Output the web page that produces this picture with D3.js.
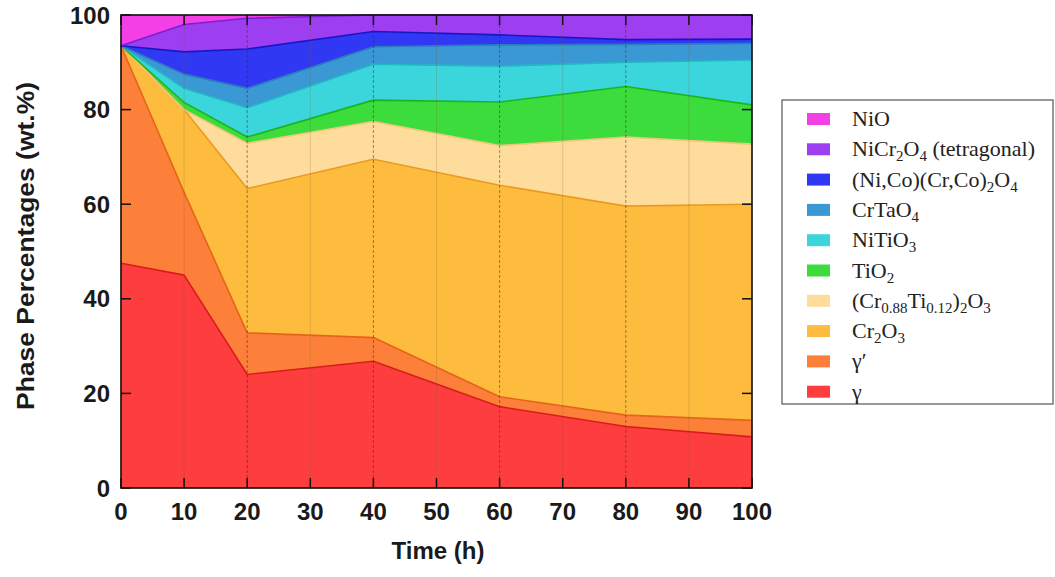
<!DOCTYPE html>
<html><head><meta charset="utf-8">
<script src="https://cdn.jsdelivr.net/npm/d3@7"></script>
<style>
html,body{margin:0;padding:0;background:#fff;}
svg{display:block;}
</style></head>
<body>
<svg id="chart" width="1055" height="577"></svg>
<script>
// ---- data ----
const times = [0, 10, 20, 40, 60, 80, 100];
const gamma      = [47.5, 45.0, 24.0, 26.8, 17.2, 13.0, 10.8];
const gammaPrime = [46.0, 17.5, 8.8, 5.0, 2.1, 2.4, 3.5];
const cr2o3      = [0, 17.5, 30.5, 37.7, 44.7, 44.2, 45.7];
const crTiOxide  = [0, 0, 9.6, 8.0, 8.4, 14.6, 12.7];
const tio2       = [0, 1.5, 1.3, 4.5, 9.2, 10.7, 8.3];
const nitio3     = [0, 3.0, 6.2, 7.6, 7.6, 5.1, 9.5];
const crtao4     = [0, 3.0, 4.1, 3.7, 4.5, 3.8, 3.5];
const spinel     = [0, 4.7, 8.3, 3.2, 2.1, 1.0, 0.9];
const nicr2o4    = [0, 5.8, 6.5, 3.5, 4.2, 5.2, 5.1];
const nio        = [6.5, 2.0, 0.7, 0, 0, 0, 0];
const xTicks = [0, 10, 20, 30, 40, 50, 60, 70, 80, 90, 100];
const yTicks = [0, 20, 40, 60, 80, 100];

// series bottom -> top
const series = [
  {key: "g",    values: gamma,      fill: "#fd3d3e", line: "#d81c1c"},
  {key: "gp",   values: gammaPrime, fill: "#fc7f3a", line: "#e5641a"},
  {key: "cr",   values: cr2o3,      fill: "#fdbc3e", line: "#eb9a1e"},
  {key: "crti", values: crTiOxide,  fill: "#fddc9c", line: "#f3c77a"},
  {key: "ti",   values: tio2,       fill: "#3bdc3c", line: "#1eb41e"},
  {key: "nt",   values: nitio3,     fill: "#3ad6dc", line: "#22b8c4"},
  {key: "ct",   values: crtao4,     fill: "#3a98d4", line: "#2a7cbc"},
  {key: "sp",   values: spinel,     fill: "#3038f4", line: "#1418c4"},
  {key: "ncr",  values: nicr2o4,    fill: "#9d3ef0", line: "#7a20d4"},
  {key: "nio",  values: nio,        fill: "#f340e6", line: "#d820cc"}
];

// legend top -> bottom
const legendItems = [
  {key: "nio",  parts: [["NiO", ""]]},
  {key: "ncr",  parts: [["NiCr", ""], ["2", "sub"], ["O", ""], ["4", "sub"], [" (tetragonal)", ""]]},
  {key: "sp",   parts: [["(Ni,Co)(Cr,Co)", ""], ["2", "sub"], ["O", ""], ["4", "sub"]]},
  {key: "ct",   parts: [["CrTaO", ""], ["4", "sub"]]},
  {key: "nt",   parts: [["NiTiO", ""], ["3", "sub"]]},
  {key: "ti",   parts: [["TiO", ""], ["2", "sub"]]},
  {key: "crti", parts: [["(Cr", ""], ["0.88", "sub"], ["Ti", ""], ["0.12", "sub"], [")", ""], ["2", "sub"], ["O", ""], ["3", "sub"]]},
  {key: "cr",   parts: [["Cr", ""], ["2", "sub"], ["O", ""], ["3", "sub"]]},
  {key: "gp",   parts: [["γ′", ""]]},
  {key: "g",    parts: [["γ", ""]]}
];

// ---- layout ----
const svg = d3.select("#chart");
const L = 121, R = 752, T = 15, B = 488;
const x = d3.scaleLinear().domain([0, 100]).range([L, R]);
const y = d3.scaleLinear().domain([0, 100]).range([B, T]);

const rows = times.map((t, i) => {
  const o = {t};
  series.forEach(s => o[s.key] = s.values[i]);
  return o;
});
const stack = d3.stack().keys(series.map(s => s.key));
const stacked = stack(rows);

const area = d3.area().x(d => x(d.data.t)).y0(d => y(d[0])).y1(d => y(d[1]));
const topLine = d3.line().x(d => x(d.data.t)).y(d => y(d[1]));

const g = svg.append("g");
stacked.forEach((layer, i) => {
  g.append("path").attr("d", area(layer)).attr("fill", series[i].fill).attr("stroke", series[i].fill).attr("stroke-width", 0.5);
});
stacked.forEach((layer, i) => {
  if (i === stacked.length - 1) return;
  g.append("path").attr("d", topLine(layer)).attr("fill", "none")
    .attr("stroke", series[i].line).attr("stroke-width", 1.6).attr("stroke-linejoin", "round");
});

// vertical grid
xTicks.filter(v => v > 0 && v < 100).forEach(v => {
  const dataPt = times.includes(v) && v !== 10;
  g.append("line").attr("x1", x(v)).attr("x2", x(v)).attr("y1", T).attr("y2", B)
    .attr("stroke", dataPt ? "#3a2a1a" : "#8a5a2a")
    .attr("stroke-opacity", dataPt ? 0.55 : 0.22)
    .attr("stroke-width", dataPt ? 0.9 : 1)
    .attr("stroke-dasharray", dataPt ? "3,2" : null);
});

// frame
svg.append("rect").attr("x", L).attr("y", T).attr("width", R - L).attr("height", B - T)
  .attr("fill", "none").attr("stroke", "#111").attr("stroke-width", 1.6);

// ticks (inward, all four sides)
const tk = 10;
xTicks.forEach(v => {
  svg.append("line").attr("x1", x(v)).attr("x2", x(v)).attr("y1", B).attr("y2", B - tk).attr("stroke", "#111").attr("stroke-width", 1.5);
  svg.append("line").attr("x1", x(v)).attr("x2", x(v)).attr("y1", T).attr("y2", T + tk).attr("stroke", "#111").attr("stroke-width", 1.5);
});
yTicks.forEach(v => {
  svg.append("line").attr("x1", L).attr("x2", L + tk).attr("y1", y(v)).attr("y2", y(v)).attr("stroke", "#111").attr("stroke-width", 1.5);
  svg.append("line").attr("x1", R).attr("x2", R - tk).attr("y1", y(v)).attr("y2", y(v)).attr("stroke", "#111").attr("stroke-width", 1.5);
});

const sansFont = "'Liberation Sans', Arial, Helvetica, sans-serif";
// tick labels
xTicks.forEach(v => {
  svg.append("text").attr("x", x(v)).attr("y", 520).attr("text-anchor", "middle")
    .attr("font-family", sansFont).attr("font-weight", "bold").attr("font-size", 24)
    .attr("fill", "#1a1a1a").text(v);
});
yTicks.forEach(v => {
  svg.append("text").attr("x", 110).attr("y", y(v) + 8.5).attr("text-anchor", "end")
    .attr("font-family", sansFont).attr("font-weight", "bold").attr("font-size", 24)
    .attr("fill", "#1a1a1a").text(v);
});

// axis titles
svg.append("text").attr("x", 438).attr("y", 559).attr("text-anchor", "middle")
  .attr("font-family", sansFont).attr("font-weight", "bold").attr("font-size", 24)
  .attr("fill", "#1a1a1a").text("Time (h)");
svg.append("text").attr("transform", "translate(34,246) rotate(-90)").attr("text-anchor", "middle")
  .attr("font-family", sansFont).attr("font-weight", "bold").attr("font-size", 24)
  .attr("textLength", 328).attr("lengthAdjust", "spacingAndGlyphs")
  .attr("fill", "#1a1a1a").text("Phase Percentages (wt.%)");

// legend
const lg = svg.append("g");
lg.append("rect").attr("x", 782).attr("y", 100).attr("width", 271).attr("height", 304)
  .attr("fill", "#fff").attr("stroke", "#555").attr("stroke-width", 1.2);
const fillOf = k => series.find(s => s.key === k).fill;
legendItems.forEach((it, i) => {
  const cy = 119 + i * 30.3;
  lg.append("rect").attr("x", 807).attr("y", cy - 6).attr("width", 23).attr("height", 12)
    .attr("fill", fillOf(it.key));
  const t = lg.append("text").attr("x", 852).attr("y", cy + 7)
    .attr("font-family", "'Liberation Serif', 'Times New Roman', serif").attr("font-size", 22).attr("fill", "#222");
  let shift = 0;
  it.parts.forEach(([s, kind]) => {
    const sp = t.append("tspan").text(s);
    if (kind === "sub") {
      sp.attr("font-size", 15).attr("dy", 5 - shift);
      shift = 5;
    } else {
      if (shift) sp.attr("dy", -shift);
      shift = 0;
    }
  });
});
</script>
</body></html>
